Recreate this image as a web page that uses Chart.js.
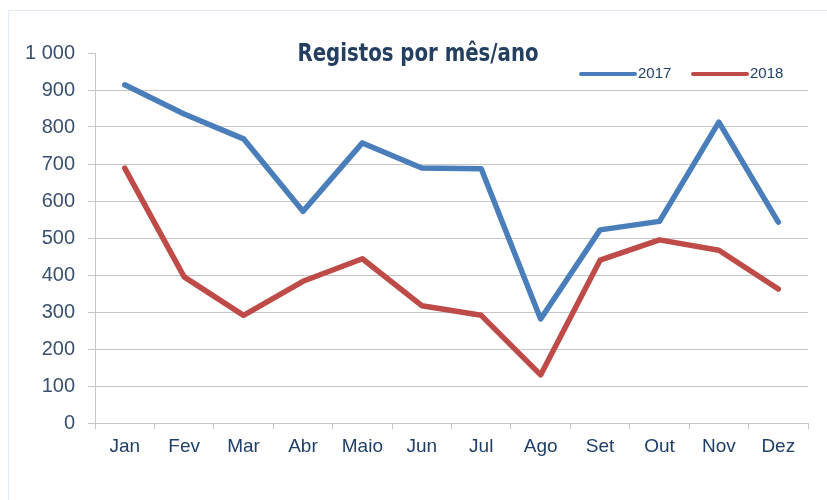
<!DOCTYPE html>
<html>
<head>
<meta charset="utf-8">
<script src="https://cdn.jsdelivr.net/npm/chart.js@4/dist/chart.umd.min.js"></script>
<style>
  html, body { margin: 0; padding: 0; background: #fff; }
  #wrap { position: relative; width: 827px; height: 500px; }
  #frame { position: absolute; left: 8px; top: 10px; width: 830px; height: 500px;
           border-left: 1px solid #e3ebf6; border-top: 1px solid #e3ebf6; }
  canvas { position: absolute; left: 0; top: 0; }
</style>
</head>
<body>
<div id="wrap">
  <div id="frame"></div>
  <canvas id="chart" width="827" height="500"></canvas>
</div>
<script>
const months = ['Jan', 'Fev', 'Mar', 'Abr', 'Maio', 'Jun', 'Jul', 'Ago', 'Set', 'Out', 'Nov', 'Dez'];
const regs2017 = [914, 835, 768, 572, 757, 689, 687, 281, 522, 545, 813, 543];
const regs2018 = [689, 395, 291, 383, 444, 317, 291, 130, 440, 495, 467, 362];
const chartTitle = 'Registos por mês/ano';

const BLUE = '#4a7ebb';
const RED = '#be4b48';
const GRID = '#c6c6c6';

// title and legend sit inside the plot area, excel style
const overlay = {
  id: 'overlay',
  afterDraw(chart) {
    const ctx = chart.ctx;
    ctx.save();
    ctx.fillStyle = '#243f60';
    ctx.font = 'bold 25px "Liberation Sans Narrow", "DejaVu Sans Condensed", sans-serif';
    ctx.textAlign = 'center';
    ctx.textBaseline = 'alphabetic';
    // squeeze to the narrow look of the original title
    const w = ctx.measureText(chartTitle).width;
    const sx = Math.min(1, 241 / w);
    ctx.translate(418, 61);
    ctx.scale(sx, 1);
    ctx.fillText(chartTitle, 0, 0);
    ctx.restore();

    ctx.save();
    let x = 581;
    ctx.font = '15px "Liberation Sans", Arial, sans-serif';
    ctx.textAlign = 'left';
    ctx.textBaseline = 'middle';
    chart.data.datasets.forEach(ds => {
      ctx.strokeStyle = ds.borderColor;
      ctx.lineWidth = 4;
      ctx.lineCap = 'round';
      ctx.beginPath();
      ctx.moveTo(x, 74);
      ctx.lineTo(x + 54, 74);
      ctx.stroke();
      ctx.fillStyle = '#1f3f66';
      ctx.fillText(ds.label, x + 57, 74);
      x += 112;
    });
    ctx.restore();
  }
};

new Chart(document.getElementById('chart'), {
  type: 'line',
  data: {
    labels: months,
    datasets: [
      { label: '2017', data: regs2017, borderColor: BLUE, backgroundColor: BLUE },
      { label: '2018', data: regs2018, borderColor: RED, backgroundColor: RED }
    ]
  },
  options: {
    responsive: false,
    animation: false,
    layout: { padding: { top: 53, right: 19, left: 0, bottom: 0 } },
    elements: {
      line: { borderWidth: 5.5, tension: 0, borderCapStyle: 'round', borderJoinStyle: 'round' },
      point: { radius: 0, hoverRadius: 0 }
    },
    plugins: {
      legend: { display: false },
      title: { display: false },
      tooltip: { enabled: false }
    },
    scales: {
      x: {
        offset: true,
        grid: {
          offset: true,
          drawOnChartArea: false,
          drawTicks: true,
          tickLength: 6,
          color: GRID
        },
        border: { color: GRID, width: 1 },
        ticks: {
          color: '#1f3f66',
          padding: 6,
          font: { family: '"Liberation Sans", Arial, sans-serif', size: 19 }
        },
        afterFit(scale) { scale.height = 77; }
      },
      y: {
        min: 0,
        max: 1000,
        grid: {
          color: ctx => (ctx.tick && ctx.tick.value === 1000 ? 'rgba(0,0,0,0)' : GRID),
          tickColor: GRID,
          tickLength: 7
        },
        border: { color: GRID, width: 1 },
        ticks: {
          stepSize: 100,
          color: '#3b4f6e',
          padding: 13,
          font: { family: '"Liberation Sans", Arial, sans-serif', size: 20 },
          callback: v => (v >= 1000 ? '1 000' : String(v))
        },
        afterFit(scale) { scale.width = 95; }
      }
    }
  },
  plugins: [overlay]
});
</script>
</body>
</html>
